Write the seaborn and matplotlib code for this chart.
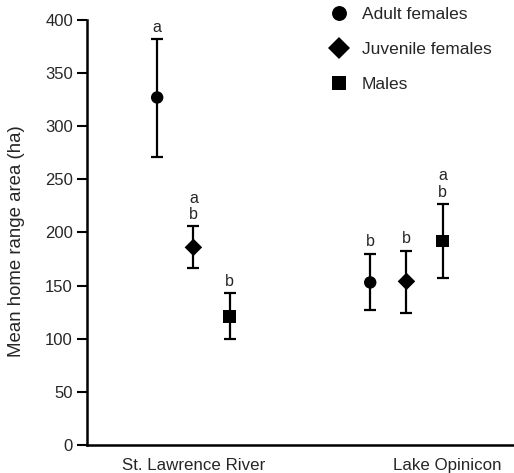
import pandas as pd
import matplotlib.pyplot as plt
import seaborn as sns

# Données
sites = ["St. Lawrence River", "Lake Opinicon"]
groups = ["Adult females", "Juvenile females", "Males"]
means_slr = [327, 186, 121]
low_slr = [271, 167, 100]
high_slr = [382, 206, 143]
means_lake = [153, 154, 192]
low_lake = [127, 124, 157]
high_lake = [180, 183, 227]
letters_slr = ["a", "a\nb", "b"]
letters_lake = ["b", "b", "a\nb"]

site_pos = {"St. Lawrence River": 1.0, "Lake Opinicon": 2.0}
offsets = [-0.17, 0.0, 0.17]

rows = []
for site, means, lows, highs, letters in [
    (sites[0], means_slr, low_slr, high_slr, letters_slr),
    (sites[1], means_lake, low_lake, high_lake, letters_lake),
]:
    for i, g in enumerate(groups):
        rows.append({"site": site, "group": g, "x": site_pos[site] + offsets[i],
                     "mean": means[i], "low": lows[i], "high": highs[i],
                     "letter": letters[i]})
df = pd.DataFrame(rows)

sns.set_style("ticks")
plt.rcParams['font.family'] = ['Liberation Sans', 'DejaVu Sans']

fig = plt.figure(figsize=(5.14, 4.73), dpi=100)
ax = fig.add_axes([0.169, 0.059, 0.829, 0.899])

# barres d'erreur + lettres
for _, r in df.iterrows():
    ax.errorbar(r["x"], r["mean"], yerr=[[r["mean"] - r["low"]], [r["high"] - r["mean"]]],
                fmt="none", ecolor="black", elinewidth=1.6, capsize=4.5, capthick=1.6, zorder=2)
    ax.text(r["x"], r["high"] + 4, r["letter"], ha="center", va="bottom",
            fontsize=11.5, linespacing=1.1)

sns.scatterplot(data=df, x="x", y="mean", style="group", hue="group",
                markers={"Adult females": "o", "Juvenile females": "D", "Males": "s"},
                palette={g: "black" for g in groups},
                s=80, edgecolor="black", linewidth=0, ax=ax, zorder=3)

ax.set_xlim(0.5, 2.5)
ax.set_ylim(0, 400)
ax.set_yticks(range(0, 401, 50))
ax.set_xticks([1.0, 2.19])
ax.set_xticklabels(sites)
ax.set_xlabel("")
ax.set_ylabel("Mean home range area (ha)", fontsize=13.4)
ax.yaxis.set_label_coords(-0.146, 0.48)

ax.tick_params(axis="y", length=7, width=1.5, color="black", labelsize=12, pad=3)
ax.tick_params(axis="x", length=0, labelsize=12.2, pad=9)
for side in ["top", "right"]:
    ax.spines[side].set_visible(False)
for side in ["left", "bottom"]:
    ax.spines[side].set_linewidth(1.8)
    ax.spines[side].set_color("black")

leg = ax.legend(frameon=False, loc="upper left", bbox_to_anchor=(0.642, 0.986),
                bbox_transform=fig.transFigure, fontsize=12.5, handlelength=1.0,
                handletextpad=0.85, labelspacing=1.15, borderpad=0, borderaxespad=0,
                markerscale=1.2)

fig.savefig("out.png", dpi=100)
